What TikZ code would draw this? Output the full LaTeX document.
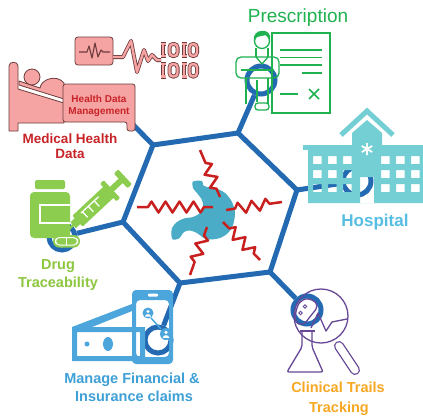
\documentclass[tikz,border=0pt]{standalone}
\usepackage{fontspec}
\setmainfont{Liberation Sans}
\usetikzlibrary{decorations.pathmorphing}

\definecolor{hexblue}{RGB}{35,106,178}
\definecolor{medred}{RGB}{200,36,40}
\definecolor{pinkfill}{RGB}{246,163,163}
\definecolor{pinkline}{RGB}{110,60,60}
\definecolor{rxgreen}{RGB}{32,178,80}
\definecolor{hosp}{RGB}{116,207,212}
\definecolor{hosptext}{RGB}{86,190,226}
\definecolor{druggreen}{RGB}{140,204,78}
\definecolor{drugtext}{RGB}{141,198,63}
\definecolor{finblue}{RGB}{76,166,220}
\definecolor{fintext}{RGB}{62,160,214}
\definecolor{trialpurple}{RGB}{102,72,150}
\definecolor{trialorange}{RGB}{247,168,35}
\definecolor{stomach}{RGB}{74,172,198}
\definecolor{painred}{RGB}{200,32,30}

\tikzset{
  hexline/.style={draw=hexblue, line width=5pt, line join=round},
  spoke/.style={draw=hexblue, line width=5pt},
  hub/.style={circle, draw=hexblue, line width=5pt, minimum size=#1, inner sep=0pt},
  lab/.style={font=\bfseries\fontsize{14.5}{16}\selectfont, anchor=base, inner sep=0pt},
  pinkshape/.style={fill=pinkfill, draw=pinkline, line width=0.8pt, line join=round},
  rxline/.style={draw=rxgreen, line width=1.3pt},
  trial/.style={draw=trialpurple, line width=1.3pt},
  pain/.style={draw=painred, line width=2.5pt, line join=round, decorate,
    decoration={zigzag, segment length=14pt, amplitude=5.5pt, pre length=9pt, post length=9pt}},
}

\begin{document}
\begin{tikzpicture}[x=1pt, y=-1pt]
\useasboundingbox (0,0) rectangle (423,415);
\fill[white] (0,0) rectangle (423,415);

% ---------- hexagon frame ----------
\coordinate (A) at (153,145);
\coordinate (B) at (238,133);
\coordinate (C) at (297,190);
\coordinate (D) at (270,272);
\coordinate (E) at (180,283);
\coordinate (F) at (123,222);

% hubs at the end of each spoke
\node[hub=24pt] (rA) at (112,103) {};
\node[hub=28pt] (rB) at (261,80) {};
\node[hub=28pt] (rC) at (357,181) {};
\node[hub=28pt] (rD) at (307,310) {};
\node[hub=26pt] (rE) at (158,340) {};
\node[hub=26pt] (rF) at (62,237) {};

\draw[spoke] (A) -- (rA);
\draw[spoke] (B) -- (rB);
\draw[spoke] (C) -- (rC);
\draw[spoke] (D) -- (rD);
\draw[spoke] (E) -- (rE);
\draw[spoke] (F) -- (rF);

\draw[hexline] (A) -- (B) -- (C) -- (D) -- (E) -- (F) -- cycle;

% ---------- stomach with pain lines ----------
\fill[stomach] plot[smooth cycle, tension=0.5] coordinates {
  (193,181.5) (202,181) (203,185) (207,187) (215,188) (225,193) (232,202)
  (235,213) (233,225) (228,233) (220,238) (210,239.5) (203,237.5) (197,233)
  (190,230.5) (184,232) (179,238.5) (173,239.5) (171.5,236) (172,228)
  (177,222) (184,218.5) (193,217) (200,213) (203,207) (202,200) (197,193)
  (193,188)};

\draw[pain] (220,197) -- (200,150);
\draw[pain] (213,207) -- (137,207);
\draw[pain] (226,210) -- (282,202);
\draw[pain] (207,227) -- (190,275);
\draw[pain] (223,222) -- (260,260);

% ---------- medical health data ----------
% bed: headboard, mattress and base
\path[pinkshape] (9,131) -- (9,66) .. controls (9,61) and (18,61) .. (18,66)
  -- (18,89) -- (64,103) -- (64,123) -- (18,123) -- (18,131) -- cycle;
% patient
\path[pinkshape] (19,81) -- (40,88) .. controls (41,79) and (57,74) .. (64,83)
  -- (64,99) -- (19,85) -- cycle;
\path[pinkshape] (32,77) circle (8);
% data box with foot
\path[pinkshape, rounded corners=2.5pt] (63,84) -- (135,84) -- (135,131)
  -- (127,131) -- (127,122) -- (63,122) -- cycle;
% monitor
\path[pinkshape, rounded corners=3pt] (75,37) rectangle (113,65);
\draw[pinkline, line width=1.1pt, line join=round] (79,52) -- (87,52) -- (89,46)
  -- (92,58) -- (95,43) -- (98,57) -- (101,50) -- (103,52) -- (110,52);
% signal running into the binary digits
\foreach \col/\w in {pinkline/4pt, pinkfill/2.4pt}{
  \draw[\col, line width=\w, line join=round] (113,57) -- (123,57) -- (131,41)
    -- (137,72) -- (144,50) -- (148,61) -- (152,55) -- (157,60) -- (161,60);
  \foreach \yt/\yb in {44/56, 64/76.5}{
    \draw[\col, line width=\w] (160.5,\yt) -- (165.5,\yt) (163,\yt) -- (163,\yb)
      (160.5,\yb) -- (165.5,\yb);
    \draw[\col, line width=\w, rounded corners=3.5pt] (169.5,\yt) rectangle (177.5,\yb);
    \draw[\col, line width=\w] (181.5,\yt) -- (186.5,\yt) (184,\yt) -- (184,\yb)
      (181.5,\yb) -- (186.5,\yb);
    \draw[\col, line width=\w, rounded corners=3.5pt] (189.5,\yt) rectangle (197,\yb);
  }
}
\node[font=\bfseries\fontsize{10}{11}\selectfont, text=medred, anchor=base, inner sep=0pt]
  (hdm1) at (99,102) {Health Data};
\node[font=\bfseries\fontsize{10}{11}\selectfont, text=medred, anchor=base, inner sep=0pt]
  (hdm2) at (99,114) {Management};

% ---------- prescription ----------
\draw[rxline] (272,33) rectangle (330,113);
\draw[rxline] (280,50) -- (322,50) (280,57.5) -- (322,57.5) (280,65) -- (322,65)
  (302,73) -- (322,73) (280,94) -- (298,94);
\draw[rxline, line width=1.6pt] (309,89) -- (319,99) (309,99) -- (319,89);
% doctor
\draw[rxline] (262,41) circle (7.5);
\fill[rxgreen] (254,41) .. controls (251,28) and (273,27) .. (270,40) -- (266,35)
  -- (257,37) -- cycle;
\draw[rxline, rounded corners=5pt] (236,78) -- (236,57) -- (279,57) -- (279,78) -- cycle;
\draw[rxline] (256,48) -- (256,57) (268,48) -- (268,57);
\draw[rxline] (256,57) -- (262,64) -- (268,57);
\draw[rxline] (241,70) -- (274,70);
\draw[rxline] (246,78) -- (246,104) (268,78) -- (268,104);
\draw[rxline] (257,80) -- (257,102);
\draw[rxline, rounded corners=3pt] (255,103) rectangle (269,110);

% ---------- hospital ----------
\fill[hosp] (303,145) rectangle (423,150);
\fill[hosp, even odd rule] (308,150) rectangle (423,203)
  \foreach \x in {313,328,343,381,396,411}{
    \foreach \y in {156,170,184}{ (\x,\y) rectangle ++(8.5,8) }
  }
  (360,177) rectangle (374,203);
\fill[hosp] (352,150) -- (352,133) -- (367,120) -- (382,133) -- (382,150) -- cycle;
\draw[hosp, line width=5pt, line join=miter] (341,135) -- (367,111) -- (393,135);
\draw[white, line width=1.8pt] (367,143) -- (367,155) (361.8,146) -- (372.2,152)
  (361.8,152) -- (372.2,146);

% ---------- drug traceability ----------
\fill[druggreen, rounded corners=1.5pt] (35,180) rectangle (65,189);
\fill[druggreen, rounded corners=4pt] (30,192) rectangle (70,238);
\draw[white, line width=1.5pt] (71,205) -- (40,205) -- (40,223) -- (71,223);
% capsule
\fill[druggreen, rounded corners=6pt] (53,235) rectangle (80,247.5);
\draw[white, line width=1pt, rounded corners=4pt] (55.5,237.5) rectangle (77.5,245);
\draw[white, line width=1pt] (66.5,237.5) -- (66.5,245);
% syringe
\begin{scope}[shift={(68,230)}, rotate=43]
  \fill[druggreen] (0,-1.2) rectangle (8,1.2);
  \fill[druggreen] (7,-4) rectangle (14,4);
  \fill[druggreen, rounded corners=1pt] (13,-7.5) rectangle (56,7.5);
  \fill[druggreen, rounded corners=1pt] (55,-12) rectangle (60,12);
  \fill[druggreen] (59,-3) rectangle (73,3);
  \fill[druggreen, rounded corners=1pt] (72,-10) rectangle (78,10);
  \draw[white, line width=1.3pt] (21,-3.5) -- (45,-3.5) (23,-3.5) -- (23,4)
    (31,-3.5) -- (31,4) (39,-3.5) -- (39,4);
\end{scope}

% ---------- finance & insurance ----------
\fill[finblue] (72,327) -- (132,304) -- (132,311) -- (92,327) -- cycle;
\fill[finblue, even odd rule] (72,327) rectangle (145,361) (77,332) rectangle (140,356);
\fill[finblue] (87,344) circle (2.5);
\fill[finblue] (108,344) ellipse (5 and 7);
% phone
\fill[finblue, even odd rule, rounded corners=4pt] (132,290) rectangle (173,364)
  (136,300) rectangle (169,357);
\fill[white, rounded corners=1pt] (148,293.5) rectangle (158,296.5);
% users on screen
\draw[finblue, line width=1.5pt] (151,318) -- (161,329);
\foreach \cx/\cy/\r in {148/313/5.5, 166/334/6}{
  \fill[finblue] (\cx,\cy) circle (\r);
  \fill[white] (\cx,\cy-1.6) circle (0.3*\r);
  \fill[white] (\cx-0.55*\r,\cy+0.65*\r) .. controls (\cx-0.5*\r,\cy+0.05*\r)
    and (\cx+0.5*\r,\cy+0.05*\r) .. (\cx+0.55*\r,\cy+0.65*\r) -- cycle;
}

% ---------- clinical trials ----------
\draw[trial] (321,316) circle (27);
\draw[trialpurple, line width=10pt, line cap=round] (339,346) -- (355,370);
\draw[white, line width=7.4pt, line cap=round] (339,346) -- (355,370);
\draw[trial, rounded corners=2pt] (302,331) -- (302,347) -- (287,372) -- (323,372)
  -- (312,347) -- (312,331);
\draw[trial] (299.5,331) -- (314.5,331);
\draw[trial] plot[smooth cycle, tension=0.8] coordinates {(296,321) (297,308)
  (303,300) (312,300) (317,306) (313,313) (309,318) (303,324)};
\draw[trialpurple, line width=0.9pt] (300.5,313) circle (1.8) (305,306.5) circle (1.8);
\draw[trial, line join=round] (311,328) -- (318,313) -- (326,331) -- (332,322) -- (347,319);

% ---------- labels ----------
\node[lab, text=medred, font=\bfseries\fontsize{13.5}{15}\selectfont] (med1) at (70,143) {Medical Health};
\node[lab, text=medred, font=\bfseries\fontsize{13.5}{15}\selectfont] (med2) at (70,158) {Data};
\node[anchor=base, inner sep=0pt, text=rxgreen, font=\fontsize{19}{21}\selectfont] (rx) at (298,22.5) {Prescription};
\node[lab, text=hosptext, font=\bfseries\fontsize{17}{19}\selectfont] (hos) at (375,226) {Hospital};
\node[lab, text=drugtext] (drug1) at (58,269) {Drug};
\node[lab, text=drugtext] (drug2) at (58,287) {Traceability};
\node[lab, text=fintext] (fin1) at (132,383) {Manage Financial \&};
\node[lab, text=fintext] (fin2) at (134,401) {Insurance claims};
\node[lab, text=trialorange] (tr1) at (338,392) {Clinical Trails};
\node[lab, text=trialorange] (tr2) at (339,412) {Tracking};
\end{tikzpicture}
\end{document}
